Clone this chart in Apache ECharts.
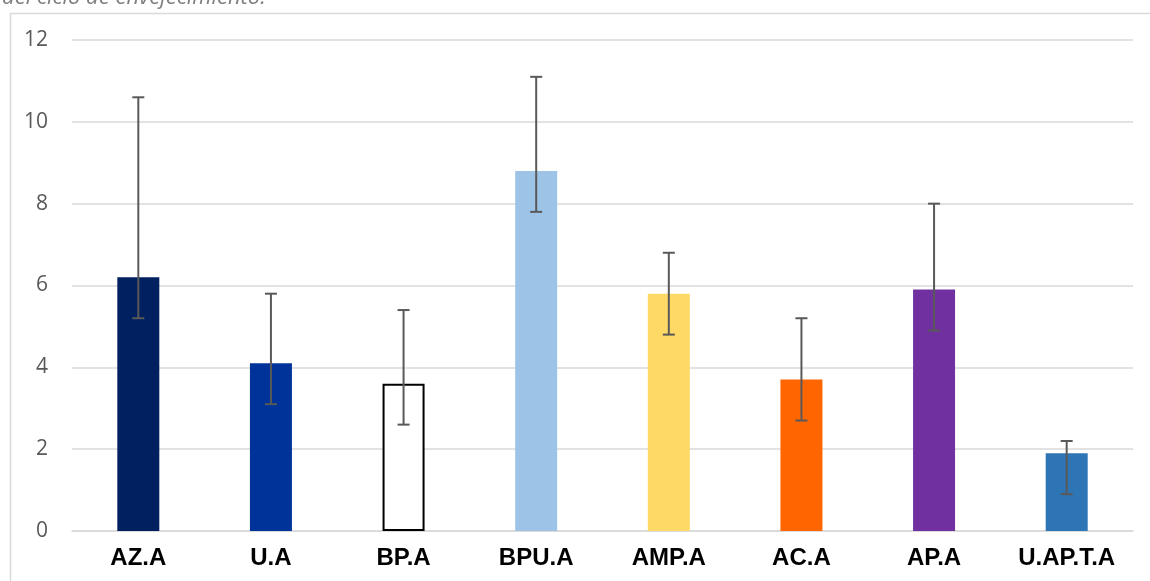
<!DOCTYPE html>
<html>
<head>
<meta charset="utf-8">
<script src="https://cdn.jsdelivr.net/npm/echarts@6/dist/echarts.min.js"></script>
<style>
html,body{margin:0;padding:0;background:#fff;}
#chart{width:1150px;height:581px;}
</style>
</head>
<body>
<div id="chart"></div>
<script>
var categories = ['AZ.A','U.A','BP.A','BPU.A','AMP.A','AC.A','AP.A','U.AP.T.A'];
var values = [6.2, 4.1, 3.6, 8.8, 5.8, 3.7, 5.9, 1.9];
var errLow = [5.2, 3.1, 2.6, 7.8, 4.8, 2.7, 4.9, 0.9];
var errHigh = [10.6, 5.8, 5.4, 11.1, 6.8, 5.2, 8.0, 2.2];
var barColors = ['#002060','#003399','#ffffff','#9DC3E6','#FFD966','#FF6600','#7030A0','#2E75B6'];
var yTicks = [0, 2, 4, 6, 8, 10, 12];

var chart = echarts.init(document.getElementById('chart'));
var barData = values.map(function(v, i){
  var item = {value: v, itemStyle: {color: barColors[i]}};
  if (categories[i] === 'BP.A') {
    item.itemStyle.borderColor = '#000000';
    item.itemStyle.borderWidth = 2;
  }
  return item;
});
var errData = categories.map(function(c, i){ return [i, errLow[i], errHigh[i]]; });

chart.setOption({
  animation: false,
  graphic: [
    {type: 'rect', left: 8, top: 11, shape: {x: 0, y: 0, width: 1200, height: 600},
     style: {fill: 'none', stroke: '#d9d9d9', lineWidth: 1.5}, silent: true},
    {type: 'text', left: 2, top: -13,
     style: {text: 'del ciclo de envejecimiento.', fill: '#7f7f7f',
             fontStyle: 'italic', fontSize: 22, fontFamily: 'Open Sans'}}
  ],
  grid: {left: 72, right: 17, top: 40, bottom: 50},
  xAxis: {
    type: 'category',
    data: categories,
    axisTick: {show: false},
    axisLine: {lineStyle: {color: '#d9d9d9', width: 1.5}},
    axisLabel: {color: '#000', fontWeight: 'bold', fontSize: 24,
                fontFamily: 'Liberation Sans', margin: 15}
  },
  yAxis: {
    type: 'value',
    min: 0, max: 12, interval: 2,
    axisLine: {show: false},
    axisTick: {show: false},
    splitLine: {lineStyle: {color: '#d9d9d9', width: 1.5}},
    axisLabel: {color: '#595959', fontSize: 21, fontFamily: 'Open Sans', margin: 24,
      formatter: function(v){ return yTicks.indexOf(v) >= 0 ? String(v) : ''; }}
  },
  series: [
    {type: 'bar', data: barData, barWidth: 42, z: 2},
    {type: 'custom', z: 5, data: errData,
     renderItem: function(params, api){
       var x = api.value(0);
       var lo = api.coord([x, api.value(1)]);
       var hi = api.coord([x, api.value(2)]);
       var cap = 6;
       var st = {stroke: '#595959', lineWidth: 2};
       return {type: 'group', children: [
         {type: 'line', shape: {x1: lo[0], y1: lo[1], x2: hi[0], y2: hi[1]}, style: st},
         {type: 'line', shape: {x1: lo[0]-cap, y1: lo[1], x2: lo[0]+cap, y2: lo[1]}, style: st},
         {type: 'line', shape: {x1: hi[0]-cap, y1: hi[1], x2: hi[0]+cap, y2: hi[1]}, style: st}
       ]};
     }}
  ]
});
</script>
</body>
</html>
